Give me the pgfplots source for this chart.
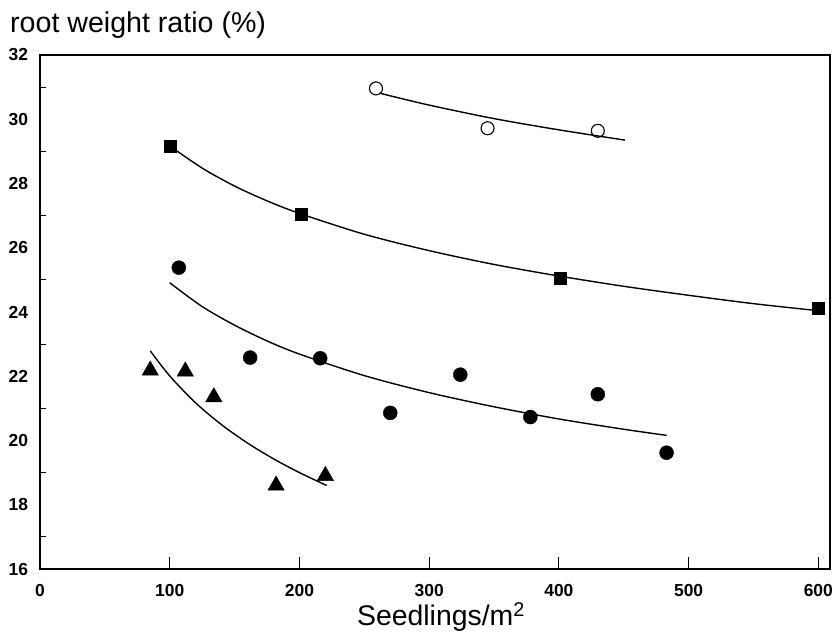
\documentclass[border=0pt]{standalone}
\usepackage{fontspec}
\setmainfont{Liberation Sans}
\usepackage{pgfplots}
\pgfplotsset{compat=1.18}
\newcommand{\tl}[1]{{\fontsize{17.5}{20}\selectfont\bfseries #1}}
\begin{document}
\begin{tikzpicture}
\begin{axis}[
  scale only axis,
  width=790bp, height=514bp,
  xmin=0, xmax=609, ymin=16, ymax=32,
  axis line style={line width=1.6bp},
  clip=false,
  xtick={0,100,...,600},
  xticklabels={\tl{0},\tl{100},\tl{200},\tl{300},\tl{400},\tl{500},\tl{600}},
  ytick={16,18,...,32},
  yticklabels={\tl{16},\tl{18},\tl{20},\tl{22},\tl{24},\tl{26},\tl{28},\tl{30},\tl{32}},
  minor ytick={17,19,...,31},
  tick align=inside,
  tick style={black, line width=1bp},
  xtick pos=bottom, ytick pos=left,
  major tick length=12bp,
  minor tick length=6bp,
  major y tick style={draw=none},
  xticklabel style={yshift=-12bp},
  yticklabel style={xshift=-8.5bp},
  xlabel={Seedlings/m\textsuperscript{2}},
  xlabel style={at={(axis description cs:0.5,0)}, anchor=base, yshift=-56bp, xshift=6bp, inner sep=0pt, font=\fontsize{28.5}{32}\selectfont},
]
% fitted curves
\addplot[black, line width=1.4bp, smooth] coordinates {
 (262,30.81) (300,30.44) (350,30.02) (400,29.67) (451,29.35)};
\addplot[black, line width=1.4bp, smooth] coordinates {
 (100,29.17) (125,28.48) (150,27.92) (175,27.46) (200,27.07) (250,26.42) (300,25.91) (350,25.48) (400,25.12) (450,24.80) (500,24.52) (550,24.26) (600,24.04)};
\addplot[black, line width=1.4bp, smooth] coordinates {
 (100,24.91) (125,24.17) (150,23.59) (175,23.10) (200,22.69) (250,22.02) (300,21.49) (350,21.05) (400,20.67) (450,20.35) (483,20.16)};
\addplot[black, line width=1.4bp, smooth] coordinates {
 (85,22.79) (100,22.01) (120,21.17) (140,20.49) (160,19.92) (180,19.43) (200,19.00) (221,18.60)};
% data points
\addplot[only marks, mark=o, mark size=6.5bp, mark options={line width=1.1bp, fill=white}] coordinates {
 (259,30.96) (345,29.72) (430,29.64)};
\addplot[only marks, mark=square*, mark size=6bp] coordinates {
 (100,29.17) (201,27.05) (401,25.04) (600,24.13)};
\addplot[only marks, mark=*, mark size=7bp] coordinates {
 (107,25.38) (162,22.58) (216,22.56) (270,20.86) (324,22.05) (378,20.73) (430,21.44) (483,19.62)};
\addplot[only marks, mark=triangle*, mark size=9.5bp] coordinates {
 (85,22.18) (112,22.15) (134,21.35) (182,18.60) (220,18.90)};
\node[anchor=base west, inner sep=0pt, xshift=-30bp, yshift=22bp, font=\fontsize{28.7}{32}\selectfont] at (rel axis cs:0,1) {root weight ratio (\%)};
\end{axis}
\pgfresetboundingbox
\path ([shift={(-40bp,-67bp)}]current axis.south west) rectangle ([shift={(4bp,55bp)}]current axis.north east);
\end{tikzpicture}
\end{document}
